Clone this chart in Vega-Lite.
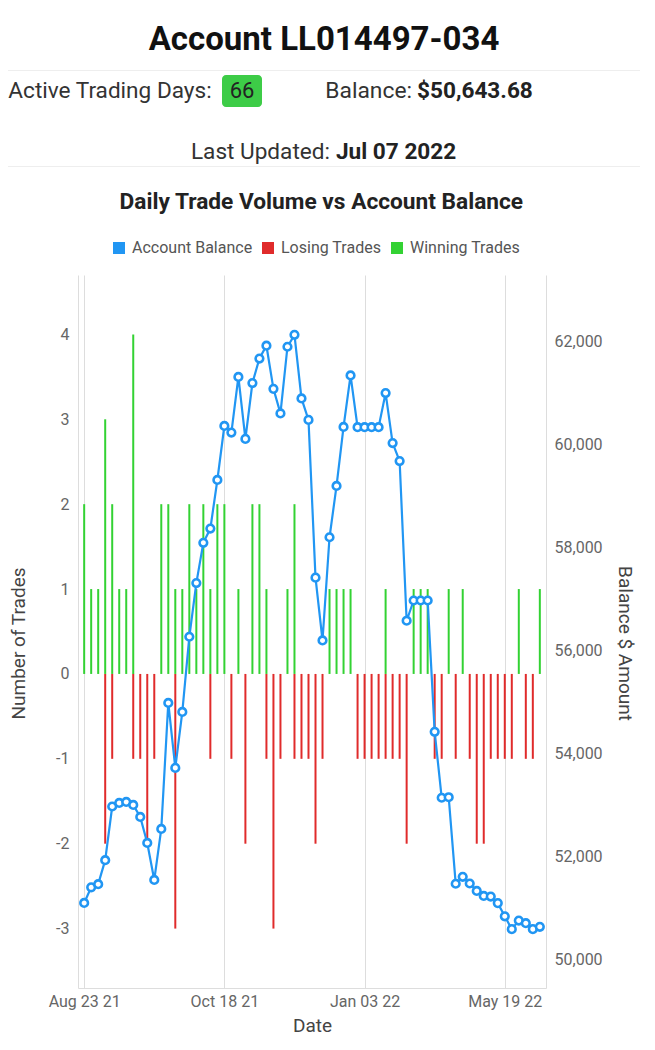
{
  "$schema": "https://vega.github.io/schema/vega-lite/v6.json",
  "padding": {"left": 8, "top": 0, "right": 0, "bottom": 0},
  "background": "white",
  "spacing": 0,
  "resolve": {"scale": {"color": "independent"}, "legend": {"color": "independent"}},
  "config": {"font": "Roboto", "view": {"stroke": null}, "concat": {"spacing": 0}},
  "datasets": {
    "header": [{"account": "Account LL014497-034", "daysLabel": "Active Trading Days:", "days": 66, "balLabel": "Balance:", "bal": "$50,643.68", "updLabel": "Last Updated:", "upd": "Jul 07 2022"}],
    "trades": [
      {"d": 0, "Winning Trades": 2, "Losing Trades": 0, "Account Balance": 51107},
      {"d": 1, "Winning Trades": 1, "Losing Trades": 0, "Account Balance": 51410},
      {"d": 2, "Winning Trades": 1, "Losing Trades": 0, "Account Balance": 51472},
      {"d": 3, "Winning Trades": 3, "Losing Trades": -2, "Account Balance": 51938},
      {"d": 4, "Winning Trades": 2, "Losing Trades": -1, "Account Balance": 52980},
      {"d": 5, "Winning Trades": 1, "Losing Trades": 0, "Account Balance": 53049},
      {"d": 6, "Winning Trades": 1, "Losing Trades": 0, "Account Balance": 53068},
      {"d": 7, "Winning Trades": 4, "Losing Trades": -1, "Account Balance": 53010},
      {"d": 8, "Winning Trades": 0, "Losing Trades": -1, "Account Balance": 52777},
      {"d": 9, "Winning Trades": 0, "Losing Trades": -2, "Account Balance": 52272},
      {"d": 10, "Winning Trades": 0, "Losing Trades": -1, "Account Balance": 51554},
      {"d": 11, "Winning Trades": 2, "Losing Trades": 0, "Account Balance": 52544},
      {"d": 12, "Winning Trades": 2, "Losing Trades": 0, "Account Balance": 54991},
      {"d": 13, "Winning Trades": 1, "Losing Trades": -3, "Account Balance": 53730},
      {"d": 14, "Winning Trades": 1, "Losing Trades": 0, "Account Balance": 54816},
      {"d": 15, "Winning Trades": 2, "Losing Trades": 0, "Account Balance": 56276},
      {"d": 16, "Winning Trades": 1, "Losing Trades": 0, "Account Balance": 57318},
      {"d": 17, "Winning Trades": 2, "Losing Trades": 0, "Account Balance": 58100},
      {"d": 18, "Winning Trades": 1, "Losing Trades": -1, "Account Balance": 58376},
      {"d": 19, "Winning Trades": 2, "Losing Trades": 0, "Account Balance": 59320},
      {"d": 20, "Winning Trades": 2, "Losing Trades": 0, "Account Balance": 60370},
      {"d": 21, "Winning Trades": 0, "Losing Trades": -1, "Account Balance": 60240},
      {"d": 22, "Winning Trades": 1, "Losing Trades": 0, "Account Balance": 61320},
      {"d": 23, "Winning Trades": 0, "Losing Trades": -2, "Account Balance": 60118},
      {"d": 24, "Winning Trades": 2, "Losing Trades": 0, "Account Balance": 61202},
      {"d": 25, "Winning Trades": 2, "Losing Trades": 0, "Account Balance": 61678},
      {"d": 26, "Winning Trades": 1, "Losing Trades": -1, "Account Balance": 61927},
      {"d": 27, "Winning Trades": 0, "Losing Trades": -3, "Account Balance": 61089},
      {"d": 28, "Winning Trades": 0, "Losing Trades": -1, "Account Balance": 60613},
      {"d": 29, "Winning Trades": 1, "Losing Trades": 0, "Account Balance": 61907},
      {"d": 30, "Winning Trades": 2, "Losing Trades": -1, "Account Balance": 62138},
      {"d": 31, "Winning Trades": 0, "Losing Trades": -1, "Account Balance": 60904},
      {"d": 32, "Winning Trades": 0, "Losing Trades": -1, "Account Balance": 60487},
      {"d": 33, "Winning Trades": 0, "Losing Trades": -2, "Account Balance": 57424},
      {"d": 34, "Winning Trades": 0, "Losing Trades": -1, "Account Balance": 56205},
      {"d": 35, "Winning Trades": 1, "Losing Trades": 0, "Account Balance": 58208},
      {"d": 36, "Winning Trades": 1, "Losing Trades": 0, "Account Balance": 59205},
      {"d": 37, "Winning Trades": 1, "Losing Trades": 0, "Account Balance": 60350},
      {"d": 38, "Winning Trades": 1, "Losing Trades": 0, "Account Balance": 61350},
      {"d": 39, "Winning Trades": 0, "Losing Trades": -1, "Account Balance": 60345},
      {"d": 40, "Winning Trades": 0, "Losing Trades": -1, "Account Balance": 60345},
      {"d": 41, "Winning Trades": 0, "Losing Trades": -1, "Account Balance": 60345},
      {"d": 42, "Winning Trades": 0, "Losing Trades": -1, "Account Balance": 60345},
      {"d": 43, "Winning Trades": 1, "Losing Trades": -1, "Account Balance": 61008},
      {"d": 44, "Winning Trades": 0, "Losing Trades": -1, "Account Balance": 60037},
      {"d": 45, "Winning Trades": 0, "Losing Trades": -1, "Account Balance": 59688},
      {"d": 46, "Winning Trades": 0, "Losing Trades": -2, "Account Balance": 56587},
      {"d": 47, "Winning Trades": 1, "Losing Trades": 0, "Account Balance": 56980},
      {"d": 48, "Winning Trades": 1, "Losing Trades": 0, "Account Balance": 56980},
      {"d": 49, "Winning Trades": 1, "Losing Trades": 0, "Account Balance": 56980},
      {"d": 50, "Winning Trades": 0, "Losing Trades": -1, "Account Balance": 54430},
      {"d": 51, "Winning Trades": 0, "Losing Trades": -1, "Account Balance": 53150},
      {"d": 52, "Winning Trades": 1, "Losing Trades": 0, "Account Balance": 53160},
      {"d": 53, "Winning Trades": 0, "Losing Trades": -1, "Account Balance": 51480},
      {"d": 54, "Winning Trades": 1, "Losing Trades": 0, "Account Balance": 51615},
      {"d": 55, "Winning Trades": 0, "Losing Trades": -1, "Account Balance": 51485},
      {"d": 56, "Winning Trades": 0, "Losing Trades": -2, "Account Balance": 51340},
      {"d": 57, "Winning Trades": 0, "Losing Trades": -2, "Account Balance": 51243},
      {"d": 58, "Winning Trades": 0, "Losing Trades": -1, "Account Balance": 51232},
      {"d": 59, "Winning Trades": 0, "Losing Trades": -1, "Account Balance": 51104},
      {"d": 60, "Winning Trades": 0, "Losing Trades": -1, "Account Balance": 50848},
      {"d": 61, "Winning Trades": 0, "Losing Trades": -1, "Account Balance": 50599},
      {"d": 62, "Winning Trades": 1, "Losing Trades": 0, "Account Balance": 50765},
      {"d": 63, "Winning Trades": 0, "Losing Trades": -1, "Account Balance": 50715},
      {"d": 64, "Winning Trades": 0, "Losing Trades": -1, "Account Balance": 50599},
      {"d": 65, "Winning Trades": 1, "Losing Trades": 0, "Account Balance": 50644}
    ]
  },
  "vconcat": [
    {
      "data": {"name": "header"}, "width": 632, "height": 70,
      "mark": {"type": "text", "fontSize": 33, "fontWeight": "bold", "color": "#111111", "dy": 5},
      "encoding": {"text": {"field": "account"}}
    },
    {
      "data": {"name": "header"}, "width": 632, "height": 1, "view": {"fill": "#eeeeee"},
      "mark": {"type": "text", "fontSize": 0}, "encoding": {"text": {"value": ""}}
    },
    {
      "data": {"name": "header"}, "width": 632, "height": 4,
      "mark": {"type": "text", "fontSize": 0}, "encoding": {"text": {"value": ""}}
    },
    {
      "spacing": 10,
      "hconcat": [
        {
          "data": {"name": "header"}, "width": 204, "height": 32,
          "mark": {"type": "text", "fontSize": 22.6, "color": "#333333"},
          "encoding": {"text": {"field": "daysLabel"}}
        },
        {
          "data": {"name": "header"}, "width": 40, "height": 32, "view": {"fill": "#3dcc47", "cornerRadius": 4},
          "mark": {"type": "text", "fontSize": 22, "color": "#222222"},
          "encoding": {"text": {"field": "days"}}
        },
        {
          "data": {"name": "header"}, "width": 286, "height": 32,
          "layer": [
            {"mark": {"type": "text", "fontSize": 22.8, "color": "#333333", "align": "right", "dx": -3}, "encoding": {"text": {"field": "balLabel"}}},
            {"mark": {"type": "text", "fontSize": 22.6, "fontWeight": "bold", "color": "#222222", "align": "left", "dx": 2}, "encoding": {"text": {"field": "bal"}}}
          ]
        }
      ]
    },
    {
      "data": {"name": "header"}, "width": 632, "height": 30,
      "mark": {"type": "text", "fontSize": 0}, "encoding": {"text": {"value": ""}}
    },
    {
      "spacing": 0,
      "hconcat": [
        {
          "data": {"name": "header"}, "width": 18, "height": 29,
          "mark": {"type": "text", "fontSize": 0}, "encoding": {"text": {"value": ""}}
        },
        {
          "data": {"name": "header"}, "width": 614, "height": 29,
          "layer": [
            {"mark": {"type": "text", "fontSize": 22.6, "color": "#333333", "align": "right", "dx": -3}, "encoding": {"text": {"field": "updLabel"}}},
            {"mark": {"type": "text", "fontSize": 22.6, "fontWeight": "bold", "color": "#222222", "align": "left", "dx": 3}, "encoding": {"text": {"field": "upd"}}}
          ]
        }
      ]
    },
    {
      "data": {"name": "header"}, "width": 632, "height": 1, "view": {"fill": "#eeeeee"},
      "mark": {"type": "text", "fontSize": 0}, "encoding": {"text": {"value": ""}}
    },
    {
      "data": {"name": "header"}, "width": 632, "height": 24,
      "mark": {"type": "text", "fontSize": 0}, "encoding": {"text": {"value": ""}}
    },
    {
      "spacing": 0,
      "resolve": {"scale": {"color": "independent"}, "legend": {"color": "independent"}},
      "hconcat": [
        {
          "data": {"name": "header"}, "width": 1, "height": 1,
          "mark": {"type": "text", "fontSize": 0}, "encoding": {"text": {"value": ""}}
        },
        {
          "data": {"name": "trades"},
          "width": 468, "height": 713,
          "title": {"text": "Daily Trade Volume vs Account Balance", "fontSize": 22.7, "fontWeight": "bold", "color": "#222222", "offset": 26, "anchor": "middle", "frame": "bounds"},
          "layer": [
            {
              "transform": [{"fold": ["Losing Trades", "Winning Trades"], "as": ["series", "n"]}, {"filter": "datum.n != 0"}],
              "mark": {"type": "rule", "strokeWidth": 2},
              "encoding": {
                "x": {"field": "d", "type": "ordinal", "scale": {"type": "point", "padding": 0.88},
                  "axis": {"title": "Date", "values": [0, 20, 40, 60], "labelExpr": "['Aug 23 21','Oct 18 21','Jan 03 22','May 19 22'][datum.value / 20]", "labelAngle": 0, "ticks": false, "grid": true, "gridColor": "#dddddd", "domainColor": "#dddddd", "labelFontSize": 16, "labelColor": "#666666", "labelPadding": 5, "titleFontSize": 19, "titleColor": "#444444", "titleFontWeight": "normal", "titlePadding": 7}},
                "y": {"field": "n", "type": "quantitative", "scale": {"domain": [-3.7, 4.7], "nice": false, "zero": false},
                  "axis": {"orient": "left", "title": "Number of Trades", "values": [-3, -2, -1, 0, 1, 2, 3, 4], "labelExpr": "'' + datum.value", "grid": false, "ticks": false, "domainColor": "#dddddd", "labelFontSize": 16, "labelColor": "#666666", "labelPadding": 9, "titleFontSize": 19, "titleColor": "#444444", "titleFontWeight": "normal", "titlePadding": 27, "titleY": 368}},
                "y2": {"datum": 0},
                "color": {"field": "series", "type": "nominal", "scale": {"domain": ["Account Balance", "Losing Trades", "Winning Trades"], "range": ["#2196f3", "#e02b2b", "#33d233"]},
                  "legend": {"orient": "none", "legendX": 33, "legendY": -35, "direction": "horizontal", "title": null, "symbolType": "square", "symbolSize": 16, "symbolStrokeWidth": 8, "labelFontSize": 16, "labelColor": "#555555", "columnPadding": -3, "labelOffset": 5}}
              }
            },
            {
              "transform": [{"fold": ["Account Balance"], "as": ["series", "bal"]}],
              "mark": {"type": "line", "color": "#2196f3", "strokeWidth": 2.2, "point": {"filled": false, "fill": "white", "stroke": "#2196f3", "strokeWidth": 2.6, "size": 58}},
              "encoding": {
                "x": {"field": "d", "type": "ordinal"},
                "y": {"field": "bal", "type": "quantitative", "scale": {"domain": [49456, 63300], "nice": false, "zero": false},
                  "axis": {"orient": "right", "title": "Balance $ Amount", "values": [50000, 52000, 54000, 56000, 58000, 60000, 62000], "labelExpr": "format(datum.value, ',')", "grid": false, "ticks": false, "domainColor": "#dddddd", "labelFontSize": 16, "labelColor": "#666666", "labelPadding": 8, "titleFontSize": 19, "titleColor": "#444444", "titleFontWeight": "normal", "titlePadding": 12, "titleY": 368}}
              }
            }
          ],
          "resolve": {"scale": {"y": "independent"}}
        }
      ]
    }
  ]
}
